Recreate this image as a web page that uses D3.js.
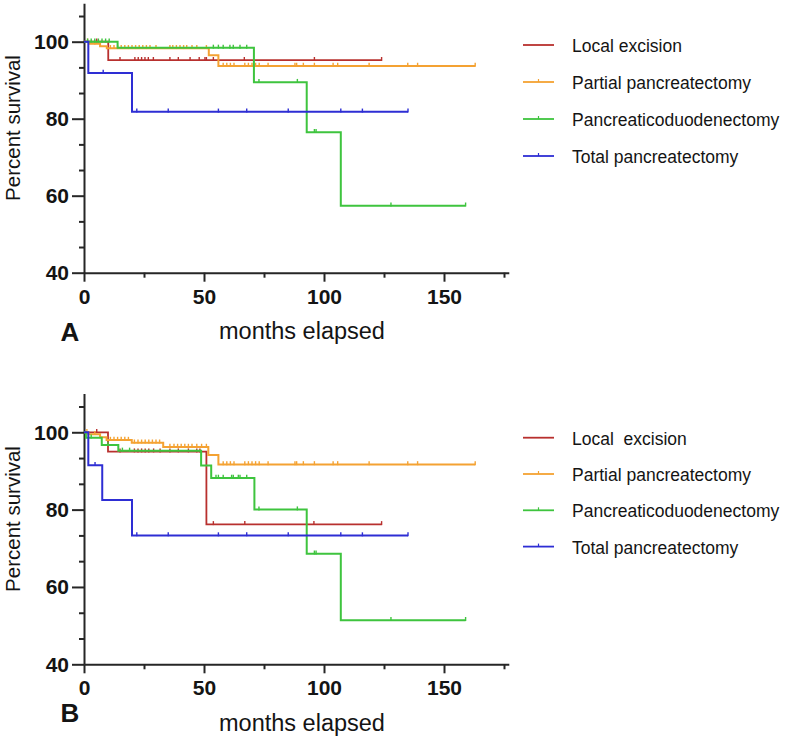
<!DOCTYPE html>
<html>
<head>
<meta charset="utf-8">
<script src="https://cdn.jsdelivr.net/npm/d3@7"></script>
<style>
  body { margin: 0; background: #fff; }
  svg { display: block; }
  text { font-family: "Liberation Sans", Arial, Helvetica, sans-serif; fill: #141414; }
</style>
</head>
<body>
<svg id="chart" width="787" height="737"></svg>
<script>
// ---------------- DATA ----------------
const seriesNamesA = ["Local excision", "Partial pancreatectomy", "Pancreaticoduodenectomy", "Total pancreatectomy"];
const seriesNamesB = ["Local  excision", "Partial pancreatectomy", "Pancreaticoduodenectomy", "Total pancreatectomy"];
const seriesColors = ["#b8302e", "#f4a232", "#3ec43e", "#2e2ed4"];

const xMajorTicks = [0, 50, 100, 150];
const xMinorTicks = [25, 75, 125, 175];
const yMajorTicks = [40, 60, 80, 100];
const yMinorTicks = [46.67, 53.33, 66.67, 73.33, 86.67, 93.33, 106.67];

// Panel A: [months, percent survival] steps, last follow-up month, censor months
const aLocalSteps = [[0, 100], [10.1, 95.2]];
const aLocalEnd = 124;
const aLocalCensor = [5.3, 15, 21.2, 22.6, 24, 25.4, 26.8, 28.9, 35.8, 39.3, 44.2, 48, 50.4, 51, 53.9, 66.8, 96, 124];

const aPartialSteps = [[0, 100], [2.5, 99.5], [6.7, 98.8], [9.5, 98.3], [52, 96.5], [56, 93.7]];
const aPartialEnd = 163;
const aPartialCensor = [1.5, 4.5, 11, 12.5, 14, 15.5, 17, 18.5, 20, 21.5, 23, 24.5, 26, 27.5, 30, 35.8, 37, 38.5, 40, 41.5, 42.8, 45, 47, 51,
  58, 59.5, 61, 62.5, 67, 68.5, 70, 71.5, 73, 76.7, 87.9, 88.6, 91.4, 96, 103.8, 105.7, 118.8, 134.9, 139, 163];

const aPancSteps = [[0, 100], [14, 98.4], [70.8, 89.5], [92.8, 76.5], [107, 57.4]];
const aPancEnd = 159;
const aPancCensor = [1.5, 3, 4.5, 6, 7.5, 9, 10.5, 53.9, 56, 58, 60.8, 62.2, 65, 67.8, 72.9, 88.9, 96, 96.7, 127.9, 159];

const aTotalSteps = [[0, 100], [1.8, 91.9], [20, 81.8]];
const aTotalEnd = 135;
const aTotalCensor = [8, 22, 35.1, 56, 67.8, 85.1, 107, 116, 135];

// Panel B
const bLocalSteps = [[0, 100], [10, 95], [51, 76.2]];
const bLocalEnd = 124;
const bLocalCensor = [5.3, 15, 21, 22.5, 24, 25.5, 27, 29, 31.7, 35.8, 39.3, 43.5, 47, 48.3, 53.9, 67, 95.8, 124];

const bPartialSteps = [[0, 100], [1.8, 99.5], [6.7, 98.7], [9.4, 98], [19.9, 97.3], [33, 96.2], [51.8, 94.1], [56, 91.7]];
const bPartialEnd = 163;
const bPartialCensor = [1.2, 4.5, 11, 12.5, 14, 15.5, 17, 18.5, 21, 22.5, 24, 25.5, 27, 28.5, 30, 31.5,
  35.8, 37.5, 39, 40.5, 42, 43.5, 45, 47, 49, 51,
  58, 59.5, 61, 62.5, 67, 68.5, 70, 71.5, 73, 76.7, 87.9, 88.6, 91.4, 96, 103.8, 105.7, 118.8, 134.9, 139, 163];

const bPancSteps = [[0, 100], [0.8, 98.6], [7.4, 96.7], [14.3, 95.2], [48.8, 91.4], [53, 88.2], [71, 80], [92.8, 68.6], [107, 51.4]];
const bPancEnd = 159;
const bPancCensor = [3, 10, 16, 19, 55, 56, 58, 61.5, 62.2, 64.3, 65, 67.8, 72.9, 88.9, 96, 96.7, 127.9, 159];

const bTotalSteps = [[0, 100], [1.8, 91.5], [7.6, 82.5], [20, 73.3]];
const bTotalEnd = 135;
const bTotalCensor = [4.6, 22, 35.1, 56, 67.8, 85.1, 107, 116, 135];

// ---------------- DRAWING ----------------
const svg = d3.select("#chart");

function survAt(steps, t) {
  let v = steps[0][1];
  for (const s of steps) { if (s[0] <= t) v = s[1]; }
  return v;
}

function drawPanel(cfg) {
  const x = d3.scaleLinear().domain([0, 177]).range([84, 84 + 177 * 2.4]);
  const y = d3.scaleLinear().domain([40, 110]).range([cfg.yBottom, cfg.yBottom - 70 * cfg.pxPerUnit]);
  const g = svg.append("g");

  // axes
  const axisColor = "#262626";
  g.append("g").attr("transform", `translate(${x(0)},0)`)
    .call(d3.axisLeft(y).tickValues(yMajorTicks).tickSize(12).tickSizeOuter(0).tickFormat(d3.format("d")).tickPadding(3));
  g.append("g").attr("transform", `translate(${x(0)},0)`)
    .call(d3.axisLeft(y).tickValues(yMinorTicks).tickSize(5).tickSizeOuter(0).tickFormat(""))
    .select(".domain").remove();
  g.append("g").attr("transform", `translate(0,${y(40)})`)
    .call(d3.axisBottom(x).tickValues(xMajorTicks).tickSize(9).tickSizeOuter(0).tickFormat(d3.format("d")).tickPadding(7));
  g.append("g").attr("transform", `translate(0,${y(40)})`)
    .call(d3.axisBottom(x).tickValues(xMinorTicks).tickSize(5).tickSizeOuter(0).tickFormat(""))
    .select(".domain").remove();
  g.selectAll(".domain").attr("stroke", axisColor).attr("stroke-width", 2);
  g.selectAll(".tick line").attr("stroke", axisColor).attr("stroke-width", 2);
  g.selectAll(".tick text").attr("font-size", 21).attr("font-weight", "bold")
    .attr("font-family", '"Liberation Sans", Arial, sans-serif').attr("fill", "#141414");

  // series
  const line = d3.line().x(d => x(d[0])).y(d => y(d[1])).curve(d3.curveStepAfter);
  cfg.series.forEach((s, i) => {
    const pts = s.steps.concat([[s.end, s.steps[s.steps.length - 1][1]]]);
    g.append("path").datum(pts)
      .attr("fill", "none").attr("stroke", seriesColors[i])
      .attr("stroke-width", i === 0 ? 1.8 : 2).attr("d", line);
    g.append("g").selectAll("line").data(s.censor).join("line")
      .attr("x1", d => x(d)).attr("x2", d => x(d))
      .attr("y1", d => y(survAt(s.steps, d)) - 3.2)
      .attr("y2", d => y(survAt(s.steps, d)) + 0.8)
      .attr("stroke", seriesColors[i]).attr("stroke-width", 1.4);
  });

  // axis titles
  g.append("text").attr("transform", `translate(19.5,${cfg.yTitleCenter}) rotate(-90)`)
    .attr("text-anchor", "middle").attr("font-size", 20.5).text("Percent survival");
  g.append("text").attr("x", 302).attr("y", cfg.xTitleBaseline)
    .attr("text-anchor", "middle").attr("font-size", 23.5).text("months elapsed");
  g.append("text").attr("x", 70).attr("y", cfg.letterBaseline)
    .attr("text-anchor", "middle").attr("font-size", 26).attr("font-weight", "bold").text(cfg.letter);

  // legend
  cfg.names.forEach((n, i) => {
    const ly = cfg.legendTop + i * cfg.legendStep;
    g.append("line").attr("x1", 523).attr("x2", 554).attr("y1", ly).attr("y2", ly)
      .attr("stroke", seriesColors[i]).attr("stroke-width", 1.8);
    if (i > 0) {
      g.append("line").attr("x1", 538.5).attr("x2", 538.5).attr("y1", ly - 3).attr("y2", ly)
        .attr("stroke", seriesColors[i]).attr("stroke-width", 1.2);
    }
    g.append("text").attr("x", 572).attr("y", ly + 7).attr("font-size", 17.5)
      .style("white-space", "pre").text(n);
  });
}

drawPanel({
  yBottom: 272.7, pxPerUnit: 3.85, letter: "A", names: seriesNamesA,
  yTitleCenter: 128, xTitleBaseline: 339, letterBaseline: 341,
  legendTop: 45, legendStep: 37,
  series: [
    { steps: aLocalSteps, end: aLocalEnd, censor: aLocalCensor },
    { steps: aPartialSteps, end: aPartialEnd, censor: aPartialCensor },
    { steps: aPancSteps, end: aPancEnd, censor: aPancCensor },
    { steps: aTotalSteps, end: aTotalEnd, censor: aTotalCensor }
  ]
});

drawPanel({
  yBottom: 664.3, pxPerUnit: 3.867, letter: "B", names: seriesNamesB,
  yTitleCenter: 519, xTitleBaseline: 730.5, letterBaseline: 722,
  legendTop: 437.7, legendStep: 36.3,
  series: [
    { steps: bLocalSteps, end: bLocalEnd, censor: bLocalCensor },
    { steps: bPartialSteps, end: bPartialEnd, censor: bPartialCensor },
    { steps: bPancSteps, end: bPancEnd, censor: bPancCensor },
    { steps: bTotalSteps, end: bTotalEnd, censor: bTotalCensor }
  ]
});
</script>
</body>
</html>
